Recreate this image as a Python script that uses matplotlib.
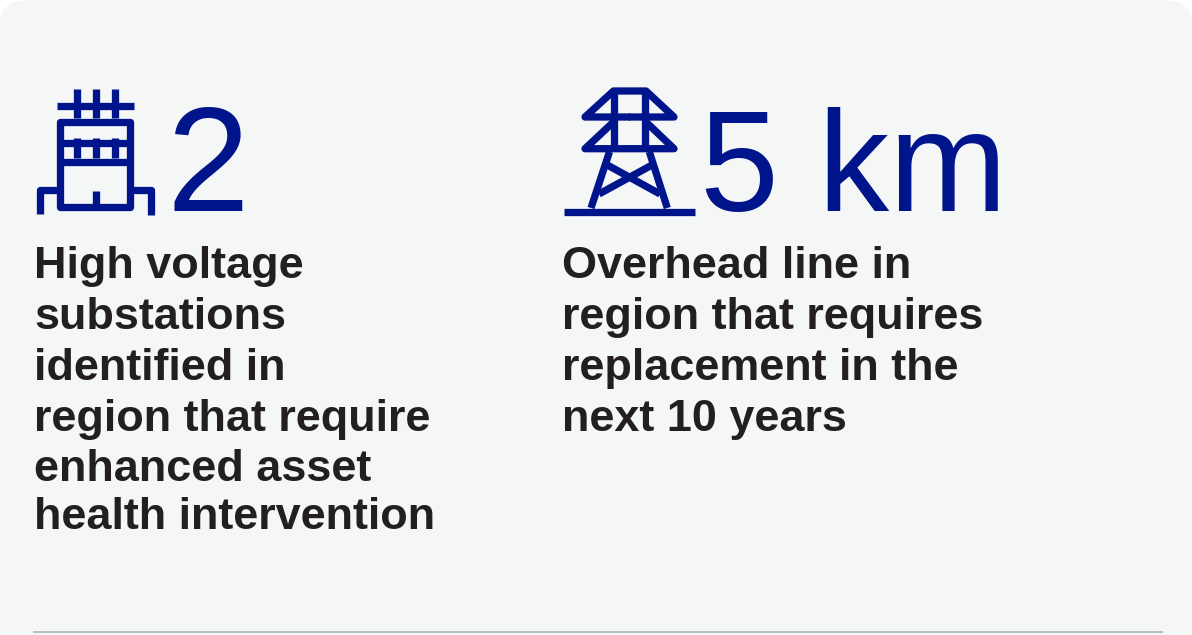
import matplotlib.pyplot as plt
from matplotlib.patches import FancyBboxPatch

plt.rcParams["font.family"] = ["Liberation Sans", "DejaVu Sans"]

BLUE = "#00148c"
DARK = "#231f20"
PANEL = "#f5f7f7"

big_numbers = ["2", "5 km"]
left_lines = [
    "High voltage",
    "substations",
    "identified in",
    "region that require",
    "enhanced asset",
    "health intervention",
]
right_lines = [
    "Overhead line in",
    "region that requires",
    "replacement in the",
    "next 10 years",
]
left_baselines = [278, 329, 380, 431, 481, 529]
right_baselines = [278, 329, 380, 431]

# substation icon strokes, in pixels
substation = [
    [(57, 105.7), (134, 105.7)],
    [(76.5, 89), (76.5, 118)],
    [(95.7, 89), (95.7, 118)],
    [(114.7, 89), (114.7, 118)],
    [(95, 122), (130.3, 122), (130.3, 207), (60.4, 207), (60.4, 122), (96, 122)],
    [(60.4, 143.3), (130.3, 143.3)],
    [(60.4, 161.7), (130.3, 161.7)],
    [(76.5, 138), (76.5, 158)],
    [(95.7, 138), (95.7, 158)],
    [(114.7, 138), (114.7, 158)],
    [(95.7, 191), (95.7, 207)],
    [(39.7, 214), (39.7, 190.3), (60, 190.3)],
    [(151, 214.5), (151, 190.3), (130, 190.3)],
]

# pylon icon strokes, in pixels
pylon = [
    [(564, 212), (695, 212)],
    [(630, 117), (585, 117), (613.5, 91), (646, 91), (674, 117), (629, 117)],
    [(613.5, 122), (585, 148.7), (674, 148.7), (646, 122)],
    [(613.7, 91), (613.7, 148.7)],
    [(645.3, 91), (645.3, 148.7)],
    [(609.5, 151.7), (591, 208)],
    [(649.3, 151.7), (667.3, 208)],
    [(607.3, 165), (660, 194)],
    [(652, 165), (599, 194)],
]

fig = plt.figure(figsize=(11.92, 6.35), dpi=100)
ax = fig.add_axes([0, 0, 1, 1])
ax.set_xlim(0, 1192)
ax.set_ylim(635, 0)
ax.axis("off")

panel = FancyBboxPatch(
    (0, 0.5), 1192, 700,
    boxstyle="round,pad=0,rounding_size=25",
    facecolor=PANEL,
    edgecolor="none",
)
ax.add_patch(panel)

for stroke in substation + pylon:
    xs = [p[0] for p in stroke]
    ys = [p[1] for p in stroke]
    ax.plot(xs, ys, color=BLUE, lw=5.25, solid_capstyle="butt", solid_joinstyle="round")

ax.text(167, 211, big_numbers[0], color=BLUE, fontsize=107, va="baseline", ha="left")
ax.text(700, 211, big_numbers[1], color=BLUE, fontsize=102, va="baseline", ha="left")

for line, y in zip(left_lines, left_baselines):
    ax.text(34, y, line, color=DARK, fontsize=32.45, fontweight="bold", va="baseline", ha="left")

for line, y in zip(right_lines, right_baselines):
    ax.text(562, y, line, color=DARK, fontsize=32.45, fontweight="bold", va="baseline", ha="left")

# thin rule along the bottom
ax.plot([33, 1163], [632, 632], color="#b9bdbd", lw=1.4, solid_capstyle="butt")

fig.savefig("out.png", dpi=100, facecolor="white")
